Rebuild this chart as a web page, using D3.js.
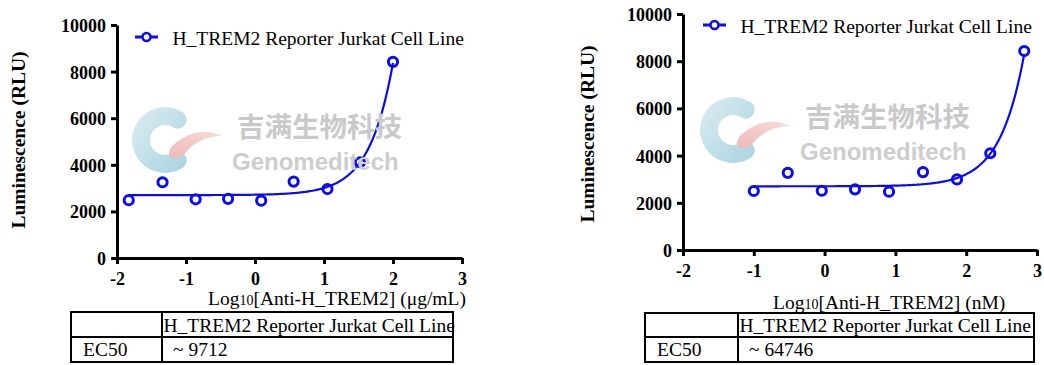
<!DOCTYPE html>
<html>
<head>
<meta charset="utf-8">
<script src="https://cdn.jsdelivr.net/npm/d3@7"></script>
<style>
  body { margin: 0; background: #fff; }
  svg { display: block; }
</style>
</head>
<body>
<svg id="chart" width="1044" height="365"></svg>
<script>
// values
const seriesName = "H_TREM2 Reporter Jurkat Cell Line";
const xTicks = [-2, -1, 0, 1, 2, 3];
const yTicks = [0, 2000, 4000, 6000, 8000, 10000];

// left panel, log10 conc in ug/mL
const logConcUg = [-1.83, -1.34, -0.86, -0.39, 0.09, 0.56, 1.05, 1.52, 2.0];
const rluUg = [2480, 3250, 2520, 2540, 2460, 3280, 2960, 4110, 8420];

// right panel, log10 conc in nM
const logConcNm = [-1.0, -0.52, -0.04, 0.43, 0.91, 1.39, 1.87, 2.34, 2.82];
const rluNm = [2500, 3270, 2510, 2570, 2470, 3300, 2990, 4100, 8430];

// 4PL fit parameters (bottom, top-bottom span, logEC50, hill)
const fitUg = [2700, 1.9e6, 3.987, 1.27];
const fitNm = [2700, 1.9e6, 4.811, 1.27];

const ec50Labels = ["~ 9712", "~ 64746"];
const xUnits = ["(\u03bcg/mL)", "(nM)"];

const blue = "#0b0bf5";
const serif = "'Liberation Serif', 'Times New Roman', serif";

const svg = d3.select("#chart");

// gradients for the watermark logo
const defs = svg.append("defs");
const gC = defs.append("linearGradient").attr("id", "gC")
  .attr("x1", "0").attr("y1", "0").attr("x2", "1").attr("y2", "1");
gC.append("stop").attr("offset", "0").attr("stop-color", "#dcedf2");
gC.append("stop").attr("offset", "1").attr("stop-color", "#a9d3df");
const gP = defs.append("linearGradient").attr("id", "gP")
  .attr("x1", "1").attr("y1", "0").attr("x2", "0").attr("y2", "1");
gP.append("stop").attr("offset", "0").attr("stop-color", "#f7dcd8");
gP.append("stop").attr("offset", "1").attr("stop-color", "#efb9b6");

function watermark(dx, dy) {
  const w = svg.append("g").attr("transform", `translate(${dx},${dy})`);
  const arc = d3.arc().innerRadius(15).outerRadius(33).cornerRadius(9)
    .startAngle(Math.PI * 0.7).endAngle(Math.PI * 2.3);
  w.append("path").attr("d", arc()).attr("transform", "translate(165,140)")
    .attr("fill", "url(#gC)");
  w.append("path")
    .attr("d", "M222,136 Q196,124 172,146 Q166,154 172,158 Q180,160 188,150 Q202,136 222,136 Z")
    .attr("fill", "url(#gP)");
  w.append("text").attr("x", 237).attr("y", 137)
    .attr("font-family", "'Noto Sans CJK SC', sans-serif").attr("font-weight", "bold")
    .attr("font-size", 27.5).attr("fill", "#c9c9c9").text("吉满生物科技");
  w.append("text").attr("x", 232).attr("y", 170)
    .attr("font-family", "'Liberation Sans', Arial, sans-serif").attr("font-weight", "bold")
    .attr("font-size", 24).attr("fill", "#cdcdcd").text("Genomeditech");
}

function panel(p) {
  const x = d3.scaleLinear().domain([-2, 3]).range([p.left, p.right]);
  const y = d3.scaleLinear().domain([0, 10000]).range([p.bottom, p.top]);
  const g = svg.append("g");

  watermark(p.wmx, p.wmy);

  // axes
  const ax = g.append("g").attr("transform", `translate(0,${p.bottom})`)
    .call(d3.axisBottom(x).tickValues(xTicks).tickFormat(d => String(d))
      .tickSize(6).tickSizeOuter(0).tickPadding(8));
  const ay = g.append("g").attr("transform", `translate(${p.left},0)`)
    .call(d3.axisLeft(y).tickValues(yTicks).tickFormat(d3.format("d"))
      .tickSize(6).tickSizeOuter(0).tickPadding(5));
  [ax, ay].forEach(a => {
    a.select(".domain").attr("stroke", "#000").attr("stroke-width", 3);
    a.selectAll(".tick line").attr("stroke", "#000").attr("stroke-width", 3);
    a.selectAll(".tick text").attr("fill", "#000")
      .attr("font-family", serif).attr("font-weight", "bold").attr("font-size", 18);
  });
  ay.selectAll(".tick text").attr("dy", "0.36em");

  // y title
  g.append("text")
    .attr("transform", `translate(${p.ytx},${p.yty}) rotate(-90)`)
    .attr("text-anchor", "middle").attr("dy", "0.35em")
    .attr("font-family", serif).attr("font-weight", "bold").attr("font-size", 19.5)
    .text("Luminescence (RLU)");

  // x title with subscript
  const xt = g.append("text").attr("x", p.xtx).attr("y", p.xty)
    .attr("font-family", serif).attr("font-size", 19.5);
  xt.append("tspan").text("Log");
  xt.append("tspan").attr("font-size", 14).text("10");
  xt.append("tspan").text("[Anti-H_TREM2] " + p.unit);

  // fitted curve
  const [bot, span, logEc, hill] = p.fit;
  const model = v => bot + span / (1 + Math.pow(10, (logEc - v) * hill));
  const xs = d3.range(0, 201).map(i => p.xs[0] + (p.xs[p.xs.length - 1] - p.xs[0]) * i / 200);
  g.append("path")
    .attr("d", d3.line().x(v => x(v)).y(v => y(model(v)))(xs))
    .attr("fill", "none").attr("stroke", blue).attr("stroke-width", 2.2);

  // points
  g.selectAll(".pt").data(p.xs).enter().append("circle")
    .attr("cx", d => x(d)).attr("cy", (d, i) => y(p.ys[i])).attr("r", 4.6)
    .attr("fill", "none").attr("stroke", blue).attr("stroke-width", 3);

  // legend
  g.append("line").attr("x1", p.lgx).attr("x2", p.lgx + 23)
    .attr("y1", p.lgy).attr("y2", p.lgy).attr("stroke", blue).attr("stroke-width", 3);
  g.append("circle").attr("cx", p.lgx + 11.5).attr("cy", p.lgy).attr("r", 4)
    .attr("fill", "#fff").attr("stroke", blue).attr("stroke-width", 2.6);
  g.append("text").attr("x", p.lgx + 37.5).attr("y", p.lgy + 8)
    .attr("font-family", serif).attr("font-size", 19.5).text(seriesName);

  // EC50 table
  const t = p.table;
  const tb = g.append("g").attr("stroke", "#000").attr("stroke-width", 2).attr("fill", "none");
  tb.append("rect").attr("x", t.x0).attr("y", t.y0).attr("width", t.x1 - t.x0).attr("height", t.y1 - t.y0);
  tb.append("line").attr("x1", t.xc).attr("x2", t.xc).attr("y1", t.y0).attr("y2", t.y1);
  tb.append("line").attr("x1", t.x0).attr("x2", t.x1).attr("y1", t.yr).attr("y2", t.yr);
  const tt = g.append("g").attr("font-family", serif).attr("font-size", 19.5).attr("fill", "#000");
  tt.append("text").attr("x", t.xc + 1.5).attr("y", t.yr - 5).text(seriesName);
  tt.append("text").attr("x", t.x0 + 12).attr("y", t.y1 - 6.5).text("EC50");
  tt.append("text").attr("x", t.xc + 11).attr("y", t.y1 - 6.5).text(p.ec50);
}

panel({
  left: 117, right: 462, top: 25, bottom: 258,
  xs: logConcUg, ys: rluUg, fit: fitUg, ec50: ec50Labels[0], unit: xUnits[0],
  ytx: 18, yty: 140, xtx: 208, xty: 305,
  lgx: 135, lgy: 37, wmx: 0, wmy: 0,
  table: { x0: 71, x1: 453, y0: 312, y1: 362, xc: 162, yr: 337 }
});

panel({
  left: 683, right: 1037, top: 14, bottom: 250,
  xs: logConcNm, ys: rluNm, fit: fitNm, ec50: ec50Labels[1], unit: xUnits[1],
  ytx: 587, yty: 134, xtx: 773, xty: 309,
  lgx: 703, lgy: 25, wmx: 568, wmy: -10,
  table: { x0: 645, x1: 1034, y0: 313, y1: 362, xc: 738, yr: 337 }
});
</script>
</body>
</html>
